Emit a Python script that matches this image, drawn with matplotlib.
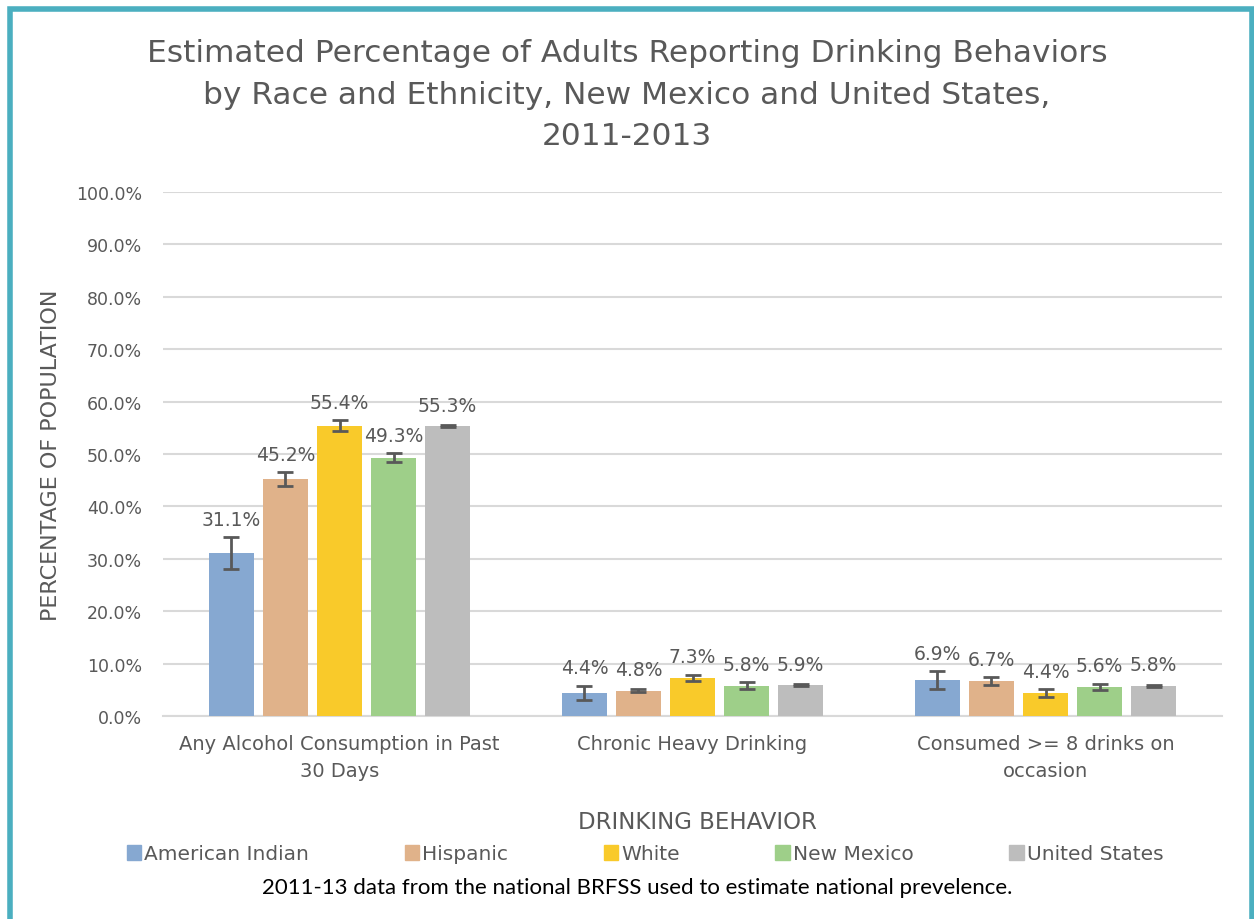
import numpy as np
import matplotlib
matplotlib.use("Agg")
from matplotlib import pyplot as plt
from matplotlib.patches import Rectangle

categories = ["Any Alcohol Consumption in Past\n30 Days", "Chronic Heavy Drinking",
              "Consumed >= 8 drinks on\noccasion"]
groups = ["American Indian", "Hispanic", "White", "New Mexico", "United States"]
values = {
    "American Indian": [31.1, 4.4, 6.9],
    "Hispanic": [45.2, 4.8, 6.7],
    "White": [55.4, 7.3, 4.4],
    "New Mexico": [49.3, 5.8, 5.6],
    "United States": [55.3, 5.9, 5.8],
}
errors = {
    "American Indian": [3.0, 1.4, 1.7],
    "Hispanic": [1.3, 0.3, 0.75],
    "White": [1.0, 0.6, 0.7],
    "New Mexico": [0.9, 0.6, 0.6],
    "United States": [0.2, 0.2, 0.2],
}
colors = ["#86A8D1", "#E0B28A", "#F9CA2A", "#9ECF89", "#BDBDBD"]

txt = "#595959"
plt.rcParams['font.family'] = ['DejaVu Sans']

fig = plt.figure(figsize=(12.54, 9.2), dpi=100)
ax = fig.add_axes([163 / 1254, 1 - 717 / 920, (1222 - 163) / 1254, (717 - 193) / 920])

x = np.arange(len(categories))
step = 0.153
width = 0.125
for i, g in enumerate(groups):
    pos = x + (i - 2) * step
    ax.bar(pos, values[g], width, color=colors[i], zorder=3)
    ax.errorbar(pos, values[g], yerr=errors[g], fmt='none', ecolor='#595959',
                elinewidth=2, capsize=6, capthick=2, zorder=4)
    for p, v, e in zip(pos, values[g], errors[g]):
        ax.text(p, v + max(e, 0.6) + 1.6, f"{v:.1f}%", ha='center', va='bottom',
                fontsize=13.5, color=txt, zorder=5)

ax.set_ylim(0, 100)
ax.set_xlim(-0.5, 2.5)
ax.set_yticks(np.arange(0, 101, 10))
ax.set_yticklabels([f"{t:.1f}%" for t in np.arange(0, 101, 10)])
ax.set_xticks(x)
ax.set_xticklabels(categories, linespacing=1.5)
ax.tick_params(axis='both', length=0, labelsize=12.5, labelcolor=txt)
ax.tick_params(axis='x', labelsize=14, pad=13)
ax.tick_params(axis='y', pad=15)
ax.grid(axis='y', color='#D9D9D9', linewidth=1.5, zorder=0)
for s in ['top', 'right', 'left']:
    ax.spines[s].set_visible(False)
ax.spines['bottom'].set_color('#D9D9D9')
ax.spines['bottom'].set_linewidth(1.5)

ax.set_ylabel("PERCENTAGE OF POPULATION", fontsize=16, color=txt)
ax.yaxis.set_label_coords(-102 / 1059, 0.5)

fig.text(627 / 1254, 1 - 95 / 920,
         "Estimated Percentage of Adults Reporting Drinking Behaviors\n"
         "by Race and Ethnicity, New Mexico and United States,\n2011-2013",
         ha='center', va='center', fontsize=22.5, color=txt, linespacing=1.55)
fig.text(697 / 1254, 1 - 823 / 920, "DRINKING BEHAVIOR", ha='center', va='center',
         fontsize=16.5, color=txt)

handles = [Rectangle((0, 0), 1, 1, color=c) for c in colors]
fig.legend(handles, groups, loc='center', bbox_to_anchor=(645 / 1254, 1 - 855 / 920),
           ncol=5, frameon=False, fontsize=14.5, handlelength=0.72, handleheight=0.72,
           handletextpad=0.15, columnspacing=4.75, labelcolor=txt)

fig.text(637 / 1254, 1 - 888 / 920,
         "2011-13 data from the national BRFSS used to estimate national prevelence.",
         ha='center', va='center', fontsize=16, color='black', family=['Lato', 'DejaVu Sans'])

# teal frame
fig.patches.append(Rectangle((9.5 / 1254, -0.05), (1242 / 1254), 1 - 9.5 / 920 + 0.05,
                             transform=fig.transFigure, fill=False,
                             edgecolor='#4BAFC0', linewidth=4))

fig.savefig("out.png", dpi=100)
